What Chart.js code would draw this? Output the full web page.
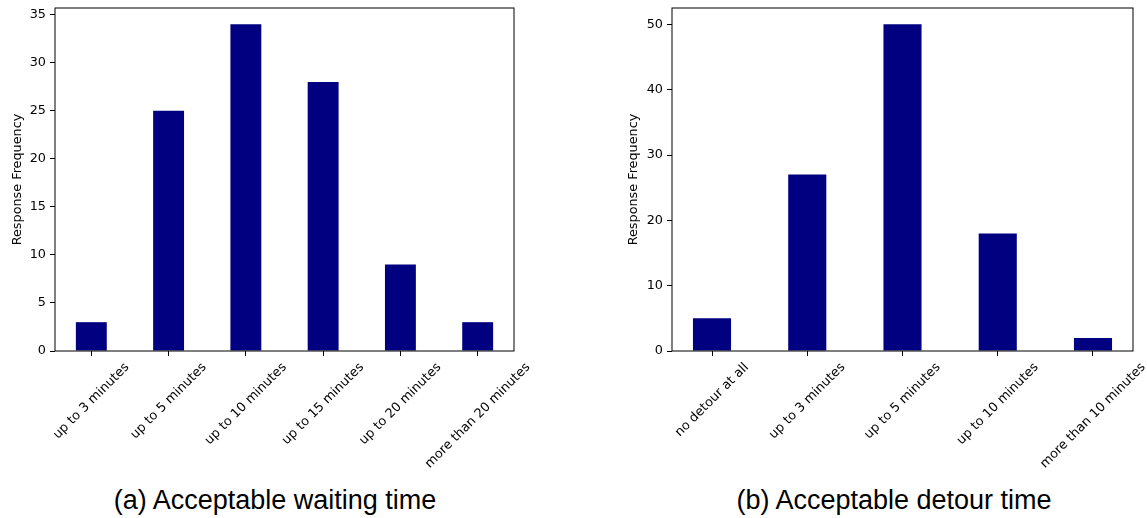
<!DOCTYPE html>
<html>
<head>
<meta charset="utf-8">
<script src="https://cdn.jsdelivr.net/npm/chart.js@4.4.0/dist/chart.umd.min.js"></script>
<style>
body { margin: 0; background: #fff; }
#wrap { position: relative; width: 1147px; height: 518px; overflow: hidden; }
#waitChart { position: absolute; left: 0; top: 0; }
#detourChart { position: absolute; left: 590px; top: 0; }
.cap { position: absolute; top: 487px; line-height: 27px; font-family: "Liberation Sans", Arial, sans-serif; font-size: 27px; color: #000; white-space: nowrap; transform: translateX(-50%); }
</style>
</head>
<body>
<div id="wrap">
    <canvas id="waitChart" width="560" height="470"></canvas>
    <canvas id="detourChart" width="557" height="470"></canvas>
    <div class="cap" style="left:275px">(a) Acceptable waiting time</div>
    <div class="cap" style="left:894px">(b) Acceptable detour time</div>
</div>
<script>
// data
var waitLabels = ["up to 3 minutes", "up to 5 minutes", "up to 10 minutes", "up to 15 minutes", "up to 20 minutes", "more than 20 minutes"];
var waitValues = [3, 25, 34, 28, 9, 3];
var detourLabels = ["no detour at all", "up to 3 minutes", "up to 5 minutes", "up to 10 minutes", "more than 10 minutes"];
var detourValues = [5, 27, 50, 18, 2];
var yTitle = "Response Frequency";

var AREA_TOP = 8;
var AREA_BOTTOM = 351;
var CANVAS_H = 470;
var FONT_SIZE = 12.8;

// box around the plot, like matplotlib spines
var framePlugin = {
    id: 'frame',
    afterDraw: function (chart) {
        var ctx = chart.ctx;
        var a = chart.chartArea;
        ctx.save();
        ctx.strokeStyle = '#000';
        ctx.lineWidth = 1;
        ctx.strokeRect(a.left, a.top, a.right - a.left, a.bottom - a.top);
        ctx.restore();
    }
};

// 45 degree labels centred under the tick (chart.js would right-align them)
var xLabelPlugin = {
    id: 'xlabels',
    afterDraw: function (chart, args, opts) {
        var ctx = chart.ctx;
        var xs = chart.scales.x;
        var c = Math.SQRT1_2;
        var h = FONT_SIZE * 1.17;
        ctx.save();
        ctx.font = FONT_SIZE + 'px "DejaVu Sans"';
        ctx.fillStyle = '#000';
        ctx.textAlign = 'center';
        ctx.textBaseline = 'middle';
        opts.labels.forEach(function (t, i) {
            var w = ctx.measureText(t).width;
            var half = (w + h) * c / 2;
            var x = xs.getPixelForValue(i);
            var y = chart.chartArea.bottom + opts.gap + half;
            ctx.save();
            ctx.translate(x, y);
            ctx.rotate(-Math.PI / 4);
            ctx.fillText(t, 0, 0);
            ctx.restore();
        });
        ctx.restore();
    }
};

function createChart(id, labels, values, yStep, axisW, padRight, titlePad) {
    var n = labels.length;
    var xMin = -0.2 - 0.05 * (n - 0.6);
    var xMax = n - 1 - xMin;
    var yMax = Math.max.apply(null, values) * 1.05;
    var points = labels.map(function (l, i) {
        return {x: i, y: values[i]};
    });
    var tickFont = {family: 'DejaVu Sans', size: FONT_SIZE};

    return new Chart(document.getElementById(id), {
        type: 'bar',
        data: {
            datasets: [{
                    data: points,
                    backgroundColor: '#000080',
                    borderWidth: 0,
                    barPercentage: 0.4,
                    categoryPercentage: 1.0
                }]
        },
        options: {
            responsive: false,
            animation: false,
            layout: {padding: {top: AREA_TOP, right: padRight, left: 0, bottom: 0}},
            scales: {
                x: {
                    type: 'linear',
                    min: xMin,
                    max: xMax,
                    offset: false,
                    afterBuildTicks: function (s) {
                        s.ticks = labels.map(function (l, i) {
                            return {value: i};
                        });
                    },
                    afterFit: function (s) {
                        s.height = CANVAS_H - AREA_BOTTOM;
                        s.paddingLeft = 0;
                        s.paddingRight = 0;
                    },
                    border: {display: false},
                    grid: {offset: false, drawOnChartArea: false, drawTicks: true, tickLength: 5, tickColor: '#000', tickWidth: 1},
                    ticks: {display: false}
                },
                y: {
                    min: 0,
                    max: yMax,
                    afterFit: function (s) {
                        s.width = axisW;
                        s.paddingTop = 0;
                        s.paddingBottom = 0;
                    },
                    border: {display: false},
                    grid: {drawOnChartArea: false, drawTicks: true, tickLength: 5, tickColor: '#000', tickWidth: 1},
                    ticks: {stepSize: yStep, includeBounds: false, color: '#000', font: tickFont, padding: 4},
                    title: {display: true, text: yTitle, color: '#000', font: tickFont, padding: {top: titlePad, bottom: 0}}
                }
            },
            plugins: {
                legend: {display: false},
                tooltip: {enabled: false},
                xlabels: {labels: labels, gap: 9}
            }
        },
        plugins: [framePlugin, xLabelPlugin]
    });
}

createChart('waitChart', waitLabels, waitValues, 5, 55, 46, 10.3);
createChart('detourChart', detourLabels, detourValues, 10, 82, 14, 36.3);
</script>
</body>
</html>
